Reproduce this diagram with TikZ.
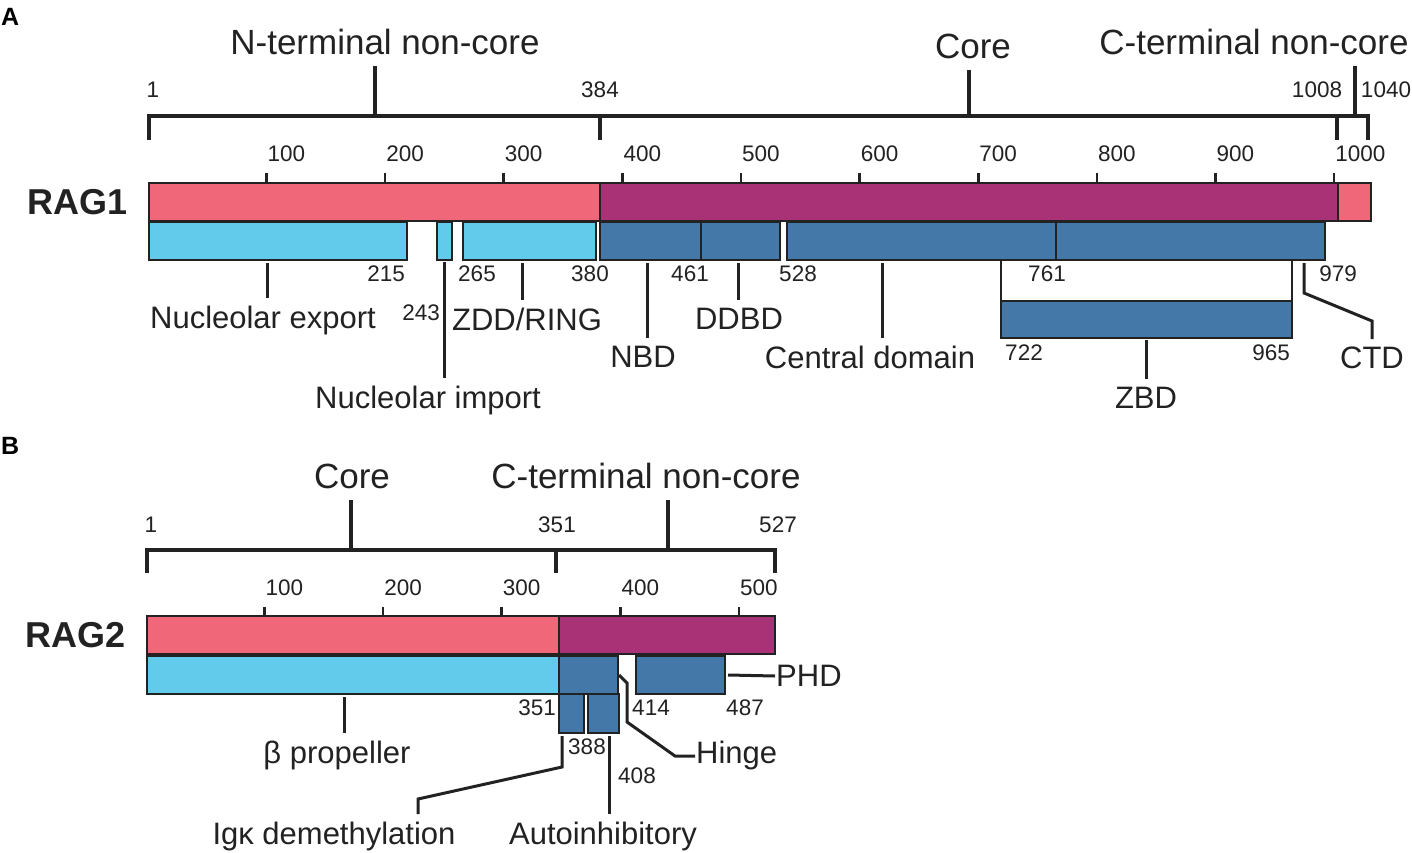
\documentclass[tikz,border=0pt]{standalone}
\usepackage{fontspec}
\setmainfont{Liberation Sans}
\usetikzlibrary{positioning}

\definecolor{ncpink}{RGB}{240,103,122}
\definecolor{corepurple}{RGB}{168,50,117}
\definecolor{domlight}{RGB}{98,203,235}
\definecolor{domdark}{RGB}{67,120,168}
\definecolor{ink}{RGB}{34,34,34}

\tikzset{
  seg/.style={draw=ink, line width=2pt, inner sep=0pt, outer sep=0pt, anchor=north west, minimum height=38pt},
  noncore/.style={seg, fill=ncpink},
  coreseg/.style={seg, fill=corepurple},
  lightdom/.style={seg, fill=domlight},
  darkdom/.style={seg, fill=domdark},
  brk/.style={draw=ink, line width=3.2pt},
  lead/.style={draw=ink, line width=3pt},
  scaletick/.style={draw=ink, line width=2.6pt},
  zbdlink/.style={draw=ink, line width=1.3pt},
  num/.style={text=ink, font=\fontsize{22.5}{26}\selectfont, inner sep=1pt},
  lab/.style={text=ink, font=\fontsize{31}{37}\selectfont, inner xsep=1pt, inner ysep=8pt},
  region/.style={text=ink, font=\fontsize{35}{41}\selectfont, inner xsep=1pt, inner ysep=11pt},
  protein/.style={text=ink, font=\bfseries\fontsize{36}{42}\selectfont, inner sep=0pt},
  panel/.style={text=black, font=\bfseries\fontsize{25}{30}\selectfont, inner sep=0pt}
}

\begin{document}
\begin{tikzpicture}[x=1pt, y=-1pt]
\useasboundingbox (0,0) rectangle (1412,853);
\fill[white] (0,0) rectangle (1412,853);

\node[panel, anchor=north west] (pA) at (1,8) {A};

\node[region, anchor=south] (r1nt) at (385,66) {N-terminal non-core};
\node[region, anchor=south] (r1cr) at (973,70) {Core};
\node[region, anchor=south] (r1ct) at (1254,66) {C-terminal non-core};

\node[num, anchor=base] (r1p1) at (153,98) {1};
\node[num, anchor=base] (r1p384) at (600,98) {384};
\node[num, anchor=base] (r1p1008) at (1317,98) {1008};
\node[num, anchor=base] (r1p1040) at (1386,98) {1040};

\node[noncore, minimum width=451pt] (r1nc) at (149,183) {};
\node[coreseg, minimum width=738pt] (r1core) at (600,183) {};
\node[noncore, minimum width=33pt] (r1cc) at (1338,183) {};

\node[protein, left=21pt of r1nc.west] (rag1) {RAG1};

\draw[brk] (149,140) -- (149,116) -- (1368,116) -- (1368,140);
\draw[brk] (600,116) -- (600,140);
\draw[brk] (1337,116) -- (1337,140);

\coordinate (r1ntB) at (375,116);
\coordinate (r1crB) at (969,116);
\coordinate (r1ctB) at (1355,116);
\draw[brk] (r1ntB) -- (r1ntB |- r1nt.south);
\draw[brk] (r1crB) -- (r1crB |- r1cr.south);
\draw[brk] (r1ctB) -- (r1ctB |- r1ct.south);

\foreach \v in {100,200,...,1000}
  \node[num, anchor=south west] (r1s\v) at ({149+(\v-1)*1.1863},163) {\v};
\foreach \v in {100,200,...,1000}
  \draw[scaletick] ([yshift=-10pt]r1s\v.south west) -- (r1s\v.south west |- r1nc.north);

\node[lightdom, minimum width=258pt] (nexp) at (149,222) {};
\node[lightdom, minimum width=15pt] (nimp) at (437,222) {};
\node[lightdom, minimum width=133pt] (zdd) at (463,222) {};
\node[darkdom, minimum width=101pt] (nbd) at (600,222) {};
\node[darkdom, minimum width=79pt] (ddbd) at (701,222) {};
\node[darkdom, minimum width=269pt] (cenA) at (787,222) {};
\node[darkdom, minimum width=269pt] (cenB) at (1056,222) {};
\node[darkdom, minimum width=291pt, minimum height=37pt] (zbd) at (1001,301) {};

\draw[zbdlink] (zbd.north west) -- (zbd.north west |- cenA.south);
\draw[zbdlink] (zbd.north east) -- (zbd.north east |- cenB.south);

\node[num, anchor=north east] (n215) at (406,265) {215};
\node[num, anchor=north east] (n243) at (441,304) {243};
\node[num, anchor=north] (n265) at (477,265) {265};
\node[num, anchor=north] (n380) at (590,265) {380};
\node[num, anchor=north] (n461) at (690,265) {461};
\node[num, anchor=north] (n528) at (798,265) {528};
\node[num, anchor=north] (n761) at (1047,265) {761};
\node[num, anchor=north] (n979) at (1338,265) {979};
\node[num, anchor=north] (n722) at (1024,344) {722};
\node[num, anchor=north] (n965) at (1271,344) {965};

\node[lab, anchor=north] (explab) at (263,298) {Nucleolar export};
\node[lab, anchor=north] (implab) at (428,378) {Nucleolar import};
\node[lab, anchor=north] (zddlab) at (527,300) {ZDD/RING};
\node[lab, anchor=north] (nbdlab) at (643,338) {NBD};
\node[lab, anchor=north] (ddbdlab) at (739,300) {DDBD};
\node[lab, anchor=north] (cenlab) at (870,338) {Central domain};
\node[lab, anchor=north] (zbdlab) at (1146,379) {ZBD};
\node[lab, anchor=north] (ctdlab) at (1372,339) {CTD};

\coordinate (expT) at (267,263);
\coordinate (zddT) at (522,263);
\coordinate (nbdT) at (647,263);
\coordinate (ddbdT) at (738,263);
\coordinate (cenT) at (882,263);
\coordinate (ctdT) at (1304,263);
\coordinate (ctdK) at (1372,321);

\draw[lead] (expT) -- (expT |- explab.north);
\draw[lead] ([yshift=-2pt]nimp.south) -- (nimp.south |- implab.north);
\draw[lead] (zddT) -- (zddT |- zddlab.north);
\draw[lead] (nbdT) -- (nbdT |- nbdlab.north);
\draw[lead] (ddbdT) -- (ddbdT |- ddbdlab.north);
\draw[lead] (cenT) -- (cenT |- cenlab.north);
\draw[lead] ([yshift=-2pt]zbd.south) -- (zbd.south |- zbdlab.north);
\draw[lead] (ctdT) -- ++(0,30) -- (ctdK) -- (ctdlab.north);

\node[panel, anchor=north west] (pB) at (1,437) {B};

\node[region, anchor=south] (r2cr) at (352,500) {Core};
\node[region, anchor=south] (r2ct) at (646,500) {C-terminal non-core};

\node[num, anchor=base] (r2p1) at (151,532) {1};
\node[num, anchor=base] (r2p351) at (557,532) {351};
\node[num, anchor=base] (r2p527) at (778,532) {527};

\node[noncore, minimum width=412pt] (r2nc) at (147,616) {};
\node[coreseg, minimum width=216pt] (r2core) at (559,616) {};

\node[protein, left=21pt of r2nc.west] (rag2) {RAG2};

\draw[brk] (147,573) -- (147,550) -- (775,550) -- (775,573);
\draw[brk] (556,550) -- (556,573);

\coordinate (r2crB) at (351,550);
\coordinate (r2ctB) at (668,550);
\draw[brk] (r2crB) -- (r2crB |- r2cr.south);
\draw[brk] (r2ctB) -- (r2ctB |- r2ct.south);

\foreach \v in {100,200,...,500}
  \node[num, anchor=south west] (r2s\v) at ({147+(\v-1)*1.1863},597) {\v};
\foreach \v in {100,200,...,500}
  \draw[scaletick] ([yshift=-10pt]r2s\v.south west) -- (r2s\v.south west |- r2nc.north);

\node[lightdom, minimum width=412pt] (beta) at (147,656) {};
\node[darkdom, minimum width=59pt] (r2mid) at (559,656) {};
\node[darkdom, minimum width=89pt] (phd) at (636,656) {};
\node[darkdom, minimum width=25pt, minimum height=39pt] (igk) at (559,694) {};
\node[darkdom, minimum width=31pt, minimum height=39pt] (autoin) at (588,694) {};

\node[num, anchor=north east] (n351) at (557,699) {351};
\node[num, anchor=north] (n414) at (651,699) {414};
\node[num, anchor=north] (n487) at (745,699) {487};
\node[num, anchor=north] (n388) at (587,738) {388};
\node[num, anchor=north] (n408) at (637,767) {408};

\node[lab, anchor=north] (betalab) at (337,733) {β propeller};
\node[lab, anchor=north] (igklab) at (334,814) {Igκ demethylation};
\node[lab, anchor=north] (autolab) at (603,814) {Autoinhibitory};
\node[lab, anchor=west] (hingelab) at (695,755) {Hinge};
\node[lab, anchor=west] (phdlab) at (775,676) {PHD};

\coordinate (betaT) at (344,697);
\coordinate (igkT) at (562,736);
\coordinate (igkK) at (418,799);
\coordinate (autoT) at (609,736);
\coordinate (hingeT) at (619,675);
\coordinate (hingeA) at (627,683);
\coordinate (hingeB) at (627,722);
\coordinate (hingeC) at (675,756);

\draw[lead] (betaT) -- (betaT |- betalab.north);
\draw[lead] (igkT) -- ++(0,31) -- (igkK) -- (igkK |- igklab.north);
\draw[lead] (autoT) -- (autoT |- autolab.north);
\draw[lead] (hingeT) -- (hingeA) -- (hingeB) -- (hingeC) -- (hingeC -| hingelab.west);
\draw[lead] ([xshift=3pt]phd.east) -- (phdlab.west);
\end{tikzpicture}
\end{document}
